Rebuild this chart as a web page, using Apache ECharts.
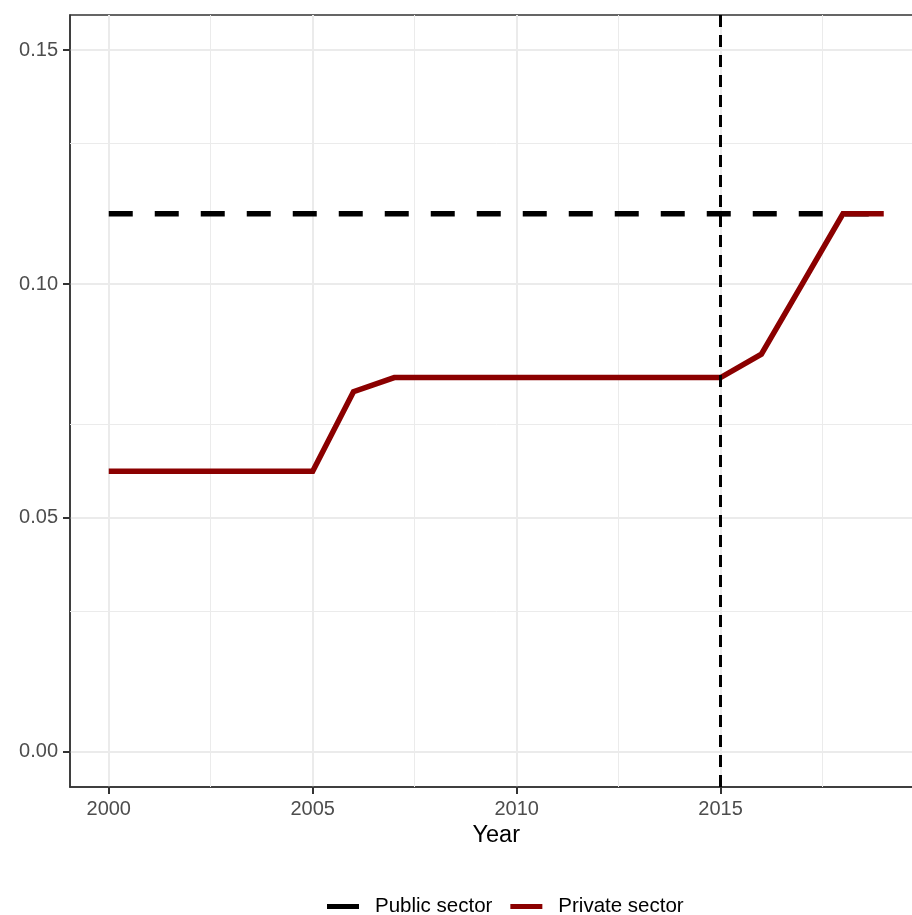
<!DOCTYPE html>
<html>
<head>
<meta charset="utf-8">
<script src="https://cdn.jsdelivr.net/npm/echarts@6/dist/echarts.min.js"></script>
<style>
html,body{margin:0;padding:0;background:#fff;overflow:hidden;}
#chart{width:960px;height:915px;}
</style>
</head>
<body>
<div id="chart"></div>
<script>
const years = [2000,2001,2002,2003,2004,2005,2006,2007,2008,2009,2010,2011,2012,2013,2014,2015,2016,2017,2018,2019];
const publicSector = [0.115,0.115,0.115,0.115,0.115,0.115,0.115,0.115,0.115,0.115,0.115,0.115,0.115,0.115,0.115,0.115,0.115,0.115,0.115,0.115];
const privateSector = [0.06,0.06,0.06,0.06,0.06,0.06,0.077,0.08,0.08,0.08,0.08,0.08,0.08,0.08,0.08,0.08,0.085,0.10,0.115,0.115];
const xTicks = [2000,2005,2010,2015];
const yTicks = [0,0.05,0.10,0.15];
const xMinor = [2002.5,2007.5,2012.5,2017.5];
const yMinor = [0.025,0.075,0.125];
const policyYear = 2015;
const seriesNames = ['Public sector','Private sector'];

const FONT = 'Liberation Sans, Arial, sans-serif';
const chart = echarts.init(document.getElementById('chart'), null, {renderer:'canvas'});

const minorLines = xMinor.map(v => ({xAxis: v})).concat(yMinor.map(v => ({yAxis: v})));

chart.setOption({
  animation: false,
  backgroundColor: '#ffffff',
  grid: {left: 70, top: 15, right: 37.5, bottom: 128, show: true, borderColor: '#333333', borderWidth: 1.5, backgroundColor: 'transparent'},
  legend: {
    left: 322, top: 891, itemWidth: 32, itemHeight: 5, itemGap: 18,
    icon: 'rect',
    textStyle: {fontFamily: FONT, fontSize: 20.5, color: '#000', padding: [0,0,0,11]},
    data: [
      {name: seriesNames[0], itemStyle: {color: '#000000'}},
      {name: seriesNames[1], itemStyle: {color: '#8B0000'}}
    ]
  },
  xAxis: {
    type: 'value', min: 1999.05, max: 2019.95,
    name: 'Year', nameLocation: 'middle', nameGap: 33,
    nameTextStyle: {fontFamily: FONT, fontSize: 23.5, color: '#000'},
    axisLine: {show: true, onZero: false, lineStyle: {color: '#333333', width: 1.5}},
    axisTick: {show: true, length: 7, customValues: xTicks, lineStyle: {color: '#333333', width: 2}},
    axisLabel: {customValues: xTicks, margin: 12, fontFamily: FONT, fontSize: 20, color: '#4d4d4d', formatter: v => String(v)},
    splitLine: {show: true, lineStyle: {color: '#ebebeb', width: 2}}
  },
  yAxis: {
    type: 'value', min: -0.0075, max: 0.1575,
    axisLine: {show: true, onZero: false, lineStyle: {color: '#333333', width: 1.5}},
    axisTick: {show: true, length: 7, customValues: yTicks, lineStyle: {color: '#333333', width: 2}},
    axisLabel: {customValues: yTicks, margin: 12, fontFamily: FONT, fontSize: 20, color: '#4d4d4d', formatter: v => v.toFixed(2)},
    splitLine: {show: true, lineStyle: {color: '#ebebeb', width: 2}}
  },
  series: [
    {
      name: '_grid', type: 'line', data: [], z: 1, silent: true,
      markLine: {silent: true, z: 1, symbol: 'none', label: {show: false}, lineStyle: {color: '#ebebeb', width: 1, type: 'solid'}, data: minorLines}
    },
    {
      name: seriesNames[0], type: 'line', z: 3, symbol: 'none',
      data: years.map((y,i) => [y, publicSector[i]]),
      lineStyle: {color: '#000000', width: 5.5, type: [24, 22], cap: 'butt'},
      itemStyle: {color: '#000000'}
    },
    {
      name: seriesNames[1], type: 'line', z: 4, symbol: 'none',
      data: years.map((y,i) => [y, privateSector[i]]),
      lineStyle: {color: '#8B0000', width: 5.5, join: 'miter'},
      itemStyle: {color: '#8B0000'},
      markLine: {silent: true, symbol: 'none', label: {show: false}, z: 5,
        lineStyle: {color: '#000000', width: 3, type: [12, 8]},
        data: [{xAxis: policyYear}]}
    }
  ]
});
</script>
</body>
</html>
